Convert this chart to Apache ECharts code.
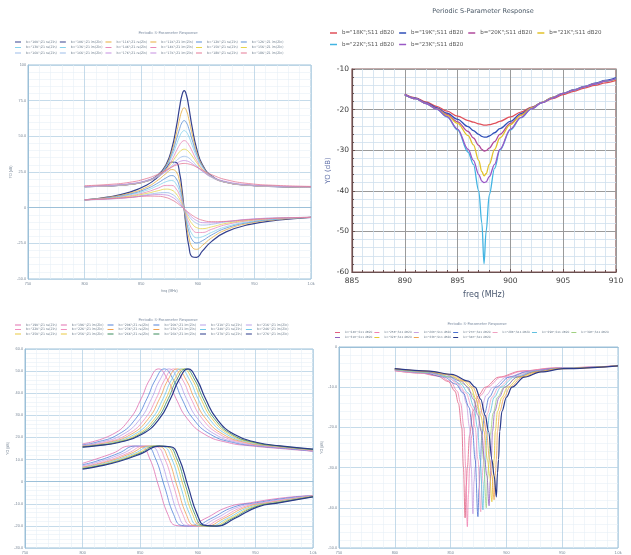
<!DOCTYPE html>
<html>
<head>
<meta charset="utf-8">
<title>Periodic S-Parameter Response</title>
<script src="https://cdn.jsdelivr.net/npm/echarts@6/dist/echarts.min.js"></script>
</head>
<body style="margin:0;background:#fff">
<div id="main" style="width:631px;height:555px;"></div>
<script type="text/javascript">

// ---- top left: re/im of Zin around resonance ----
var tlB = ['10K', '11K', '12K', '13K', '14K', '15K', '16K', '17K', '18K'];
var tlColors = ['#34408f', '#e8ac3c', '#5a8ed6', '#86d2ec', '#e888b8', '#e6d44c', '#9cbce8', '#c58ee0', '#e47894'];
var tlFreq = [800, 820, 840, 855, 865, 872, 877, 881, 884, 886, 888, 890, 892, 895, 899, 904, 912, 925, 945, 970, 1000];
var tlRe = [
    [14.7, 15.2, 16.3, 18.7, 23.0, 30.3, 41.3, 56.4, 70.8, 78.8, 82, 78.8, 70.8, 56.4, 41.3, 30.3, 22.4, 17.8, 15.7, 14.8, 14.4],
    [14.7, 15.2, 16.3, 18.7, 22.9, 29.7, 39.3, 51.6, 62.3, 67.9, 70, 67.9, 62.3, 51.6, 39.3, 29.7, 22.3, 17.8, 15.7, 14.8, 14.4],
    [14.7, 15.2, 16.4, 18.7, 22.7, 29.1, 37.5, 47.5, 55.5, 59.5, 61, 59.5, 55.5, 47.5, 37.5, 29.1, 22.2, 17.8, 15.7, 14.8, 14.5],
    [14.7, 15.2, 16.4, 18.7, 22.6, 28.4, 35.7, 43.8, 50, 52.9, 54, 52.9, 50, 43.8, 35.7, 28.4, 22, 17.8, 15.7, 14.8, 14.5],
    [14.7, 15.2, 16.3, 18.4, 22.0, 27.1, 33.2, 39.6, 44.1, 46.2, 47, 46.2, 44.1, 39.6, 33.2, 27.1, 21.5, 17.6, 15.6, 14.8, 14.4],
    [14.8, 15.3, 16.4, 18.6, 22.1, 26.6, 31.6, 36.2, 39.2, 40.5, 41, 40.5, 39.2, 36.2, 31.6, 26.6, 21.6, 17.8, 15.8, 14.9, 14.5],
    [14.8, 15.3, 16.5, 18.6, 21.8, 25.7, 29.5, 32.8, 34.9, 35.7, 36, 35.7, 34.9, 32.8, 29.5, 25.7, 21.3, 17.8, 15.8, 14.9, 14.5],
    [14.9, 15.5, 16.8, 19.1, 22.2, 25.6, 28.6, 30.9, 32.3, 32.8, 33, 32.8, 32.3, 30.9, 28.6, 25.6, 21.8, 18.3, 16.1, 15.1, 14.6],
    [15.4, 16.2, 17.8, 20.5, 23.5, 26.3, 28.4, 29.9, 30.6, 30.9, 31, 30.9, 30.6, 29.9, 28.4, 26.3, 23.2, 19.6, 16.9, 15.6, 14.9]
];
var tlIm = [
    [5.5, 7.4, 10.9, 15.9, 21.7, 27.7, 32.0, 31.6, 23.8, 13.0, -1.4, -15.8, -26.6, -34.4, -34.8, -30.5, -23.8, -17.0, -11.9, -8.8, -6.8],
    [5.5, 7.2, 10.2, 14.4, 19.4, 24.0, 26.7, 25.1, 18.1, 9.6, -1.2, -12.1, -20.6, -27.6, -29.2, -26.5, -21.3, -15.5, -11.0, -8.4, -6.8],
    [5.5, 6.9, 9.5, 13.3, 17.4, 20.9, 22.5, 20.2, 14.0, 7.2, -1.1, -9.5, -16.3, -22.5, -24.7, -23.2, -19.2, -14.3, -10.4, -8.1, -6.8],
    [5.5, 6.6, 9.0, 12.2, 15.6, 18.2, 19.0, 16.4, 11.0, 5.4, -1.1, -7.6, -13.1, -18.6, -21.1, -20.4, -17.4, -13.3, -9.9, -7.9, -6.8],
    [5.5, 6.4, 8.3, 11.0, 13.7, 15.6, 15.6, 13.0, 8.5, 4.1, -0.9, -6.0, -10.3, -14.9, -17.4, -17.4, -15.2, -11.9, -9.2, -7.5, -6.8],
    [5.5, 6.3, 7.9, 10.0, 11.9, 13.0, 12.3, 9.6, 5.9, 2.7, -0.9, -4.4, -7.6, -11.3, -14.0, -14.7, -13.5, -11.0, -8.8, -7.4, -6.8],
    [5.5, 6.1, 7.3, 9.1, 10.3, 10.6, 9.5, 7.1, 4.2, 1.9, -0.8, -3.4, -5.8, -8.6, -11.0, -12.2, -11.7, -10.0, -8.3, -7.2, -6.8],
    [5.5, 6.0, 7.1, 8.5, 9.2, 8.9, 7.5, 5.3, 2.9, 1.2, -0.8, -2.7, -4.5, -6.8, -9.0, -10.5, -10.6, -9.7, -8.1, -7.2, -6.8],
    [5.5, 6.2, 7.2, 8.1, 8.0, 7.1, 5.5, 3.6, 1.8, 0.5, -0.9, -2.2, -3.5, -5.3, -7.2, -8.8, -9.8, -9.6, -8.4, -7.4, -6.8]
];

// ---- top right: S11 dB20 ----
var trB = ['18K', '19K', '20K', '21K', '22K', '23K'];
var trColors = ['#e0505a', '#2f4fb8', '#b04a9c', '#e2c22a', '#42b4e2', '#9a58c6'];
var trFreq = [890, 891, 892, 893, 894, 895, 896, 896.5, 897, 897.3, 897.5, 897.7, 898, 898.5, 899, 900, 901, 902, 903, 904, 905, 906, 907, 908, 909, 910];
var trS11 = [
    [-16.2, -17.1, -18.1, -19.2, -20.4, -21.6, -22.7, -23.1, -23.5, -23.7, -23.8, -23.8, -23.7, -23.4, -22.9, -21.8, -20.6, -19.4, -18.3, -17.3, -16.3, -15.5, -14.7, -14.0, -13.4, -12.8],
    [-16.3, -17.2, -18.3, -19.5, -20.9, -22.4, -24.2, -25.2, -26.1, -26.6, -26.8, -26.8, -26.5, -25.7, -24.7, -22.9, -21.0, -19.5, -18.2, -17.0, -16.0, -15.1, -14.3, -13.5, -12.8, -12.1],
    [-16.3, -17.3, -18.4, -19.7, -21.2, -23.0, -25.4, -27.0, -28.8, -29.8, -30.2, -30.1, -29.5, -27.9, -26.1, -23.4, -21.3, -19.6, -18.2, -17.0, -16.0, -15.2, -14.4, -13.7, -13.0, -12.4],
    [-16.3, -17.3, -18.5, -19.8, -21.4, -23.4, -26.4, -28.7, -32.5, -35.3, -36.3, -35.8, -33.5, -29.8, -27.0, -23.7, -21.4, -19.6, -18.2, -17.0, -16.0, -15.2, -14.4, -13.7, -13.0, -12.5],
    [-16.3, -17.3, -18.5, -19.9, -21.8, -25.0, -30.5, -33.5, -40, -48, -58, -50, -41, -34.5, -30, -25.0, -22.0, -19.8, -18.3, -17.1, -16.0, -15.2, -14.4, -13.7, -13.0, -12.4],
    [-16.3, -17.3, -18.5, -19.9, -21.7, -24.8, -29.8, -32.5, -36, -37.6, -38, -37.8, -36.5, -33.5, -29.8, -24.8, -21.9, -19.8, -18.3, -17.1, -16.0, -15.2, -14.4, -13.7, -13.0, -12.4]
];

// ---- bottom left: shifted resonances ----
var blB = ['19K', '20K', '21K', '22K', '23K', '24K', '25K', '26K', '27K'];
var blColors = ['#e070b0', '#5080d8', '#b8a0e8', '#f090c0', '#f0a050', '#70c8e8', '#e8c840', '#3a8a5a', '#2a3a8a'];
var blRe = [
    [[800, 17.1], [826, 21.4], [841, 28.4], [851, 37.7], [858, 45.9], [866, 51], [874, 45.9], [881, 37.7], [891, 28.4], [906, 21.4], [926, 17.7], [946, 16.2], [976, 14.8], [1000, 13.8]],
    [[800, 16.7], [811, 17.7], [831, 21.4], [846, 28.4], [856, 37.7], [863, 45.9], [871, 51], [879, 45.9], [886, 37.7], [896, 28.4], [911, 21.4], [931, 17.7], [951, 16.2], [981, 14.8], [1000, 13.8]],
    [[800, 16.5], [815, 17.7], [835, 21.4], [850, 28.4], [860, 37.7], [867, 45.9], [875, 51], [883, 45.9], [890, 37.7], [900, 28.4], [915, 21.4], [935, 17.7], [955, 16.2], [985, 14.8], [1000, 13.8]],
    [[800, 16.2], [819, 17.7], [839, 21.4], [854, 28.4], [864, 37.7], [871, 45.9], [879, 51], [887, 45.9], [894, 37.7], [904, 28.4], [919, 21.4], [939, 17.7], [959, 16.2], [989, 14.8], [1000, 13.8]],
    [[800, 16.1], [822, 17.7], [842, 21.4], [857, 28.4], [867, 37.7], [874, 45.9], [882, 51], [890, 45.9], [897, 37.7], [907, 28.4], [922, 21.4], [942, 17.7], [962, 16.2], [1000, 14.3]],
    [[800, 15.9], [805, 16.2], [825, 17.7], [845, 21.4], [860, 28.4], [870, 37.7], [877, 45.9], [885, 51], [893, 45.9], [900, 37.7], [910, 28.4], [925, 21.4], [945, 17.7], [965, 16.2], [1000, 14.4]],
    [[800, 15.8], [807.5, 16.2], [827.5, 17.7], [847.5, 21.4], [862.5, 28.4], [872.5, 37.7], [879.5, 45.9], [887.5, 51], [895.5, 45.9], [902.5, 37.7], [912.5, 28.4], [927.5, 21.4], [947.5, 17.7], [967.5, 16.2], [1000, 14.5]],
    [[800, 15.7], [809.5, 16.2], [829.5, 17.7], [849.5, 21.4], [864.5, 28.4], [874.5, 37.7], [881.5, 45.9], [889.5, 51], [897.5, 45.9], [904.5, 37.7], [914.5, 28.4], [929.5, 21.4], [949.5, 17.7], [969.5, 16.2], [1000, 14.6]],
    [[800, 15.6], [811.5, 16.2], [831.5, 17.7], [851.5, 21.4], [866.5, 28.4], [876.5, 37.7], [883.5, 45.9], [891.5, 51], [899.5, 45.9], [906.5, 37.7], [916.5, 28.4], [931.5, 21.4], [951.5, 17.7], [971.5, 16.2], [1000, 14.7]]
];
var blIm = [
    [[800, 8.3], [826, 12.8], [841, 16.1], [851, 15.8], [858, 10.8], [866, -2], [874, -14.8], [881, -19.8], [891, -20.1], [906, -16.8], [926, -11.5], [946, -9.5], [976, -7.2], [1000, -6.3]],
    [[800, 7.7], [811, 9.1], [831, 12.8], [846, 16.1], [856, 15.8], [863, 10.8], [871, -2], [879, -14.8], [886, -19.8], [896, -20.1], [911, -16.8], [931, -11.5], [951, -9.5], [981, -7.2], [1000, -6.3]],
    [[800, 7.2], [815, 9.1], [835, 12.8], [850, 16.1], [860, 15.8], [867, 10.8], [875, -2], [883, -14.8], [890, -19.8], [900, -20.1], [915, -16.8], [935, -11.5], [955, -9.5], [985, -7.2], [1000, -6.3]],
    [[800, 6.7], [819, 9.1], [839, 12.8], [854, 16.1], [864, 15.8], [871, 10.8], [879, -2], [887, -14.8], [894, -19.8], [904, -20.1], [919, -16.8], [939, -11.5], [959, -9.5], [989, -7.2], [1000, -6.3]],
    [[800, 6.5], [822, 9.1], [842, 12.8], [857, 16.1], [867, 15.8], [874, 10.8], [882, -2], [890, -14.8], [897, -19.8], [907, -20.1], [922, -16.8], [942, -11.5], [962, -9.5], [1000, -6.5]],
    [[800, 6.2], [805, 6.7], [825, 9.1], [845, 12.8], [860, 16.1], [870, 15.8], [877, 10.8], [885, -2], [893, -14.8], [900, -19.8], [910, -20.1], [925, -16.8], [945, -11.5], [965, -9.5], [1000, -6.6]],
    [[800, 6.1], [807.5, 6.7], [827.5, 9.1], [847.5, 12.8], [862.5, 16.1], [872.5, 15.8], [879.5, 10.8], [887.5, -2], [895.5, -14.8], [902.5, -19.8], [912.5, -20.1], [927.5, -16.8], [947.5, -11.5], [967.5, -9.5], [1000, -6.7]],
    [[800, 5.9], [809.5, 6.7], [829.5, 9.1], [849.5, 12.8], [864.5, 16.1], [874.5, 15.8], [881.5, 10.8], [889.5, -2], [897.5, -14.8], [904.5, -19.8], [914.5, -20.1], [929.5, -16.8], [949.5, -11.5], [969.5, -9.5], [1000, -6.8]],
    [[800, 5.7], [811.5, 6.7], [831.5, 9.1], [851.5, 12.8], [866.5, 16.1], [876.5, 15.8], [883.5, 10.8], [891.5, -2], [899.5, -14.8], [906.5, -19.8], [916.5, -20.1], [931.5, -16.8], [951.5, -11.5], [971.5, -9.5], [1000, -6.9]]
];

// ---- bottom right: S11 dB20 notches ----
var brB = ['24K', '25K', '26K', '27K', '28K', '29K', '30K', '31K', '32K', '33K', '34K'];
var brColors = ['#e06080', '#f080b0', '#c8a0e0', '#4a70d0', '#f0a0c0', '#60c0e0', '#a0d080', '#9060c0', '#e8c830', '#f0a050', '#2a3a8a'];
var brS11 = [
    [[800, -5.9], [823, -6.5], [838, -7.2], [848, -8.6], [854, -11], [857, -14], [860, -20], [861.5, -30], [863, -42.5], [864, -34.5], [865, -30], [867, -22], [870, -16], [875, -12], [881, -10], [893, -7.5], [913, -6.0], [943, -5.2], [1000, -4.7]],
    [[800, -5.9], [825, -6.5], [840, -7.2], [850, -8.6], [856, -11], [859, -14], [862, -20], [863.5, -30], [865, -44.7], [866, -36.7], [867, -30], [869, -22], [872, -16], [877, -12], [883, -10], [895, -7.5], [915, -6.0], [945, -5.2], [1000, -4.7]],
    [[800, -5.8], [830, -6.5], [845, -7.2], [855, -8.6], [861, -11], [864, -14], [867, -20], [868.5, -30], [870, -41.5], [871, -33.5], [872, -30], [874, -22], [877, -16], [882, -12], [888, -10], [900, -7.5], [920, -6.0], [950, -5.2], [1000, -4.7]],
    [[800, -5.6], [824.5, -6.3], [844.5, -7.5], [854.5, -9.2], [861.5, -11.5], [866.5, -15], [869.5, -20], [872, -28], [874.5, -42.2], [875.5, -35.2], [876.5, -30], [878, -22], [880.5, -16.5], [884.5, -12.5], [890.5, -10], [902.5, -7.5], [919.5, -6.1], [944.5, -5.3], [1000, -4.7]],
    [[800, -5.6], [827, -6.3], [847, -7.5], [857, -9.2], [864, -11.5], [869, -15], [872, -20], [874.5, -28], [877, -41], [878, -34], [879, -30], [880.5, -22], [883, -16.5], [887, -12.5], [893, -10], [905, -7.5], [922, -6.1], [947, -5.3], [1000, -4.7]],
    [[800, -5.6], [829, -6.3], [849, -7.5], [859, -9.2], [866, -11.5], [871, -15], [874, -20], [876.5, -28], [879, -40.5], [880, -33.5], [881, -30], [882.5, -22], [885, -16.5], [889, -12.5], [895, -10], [907, -7.5], [924, -6.1], [949, -5.3], [1000, -4.7]],
    [[800, -5.6], [832, -6.3], [852, -7.5], [862, -9.2], [869, -11.5], [874, -15], [877, -20], [879.5, -28], [882, -40], [883, -33], [884, -30], [885.5, -22], [888, -16.5], [892, -12.5], [898, -10], [910, -7.5], [927, -6.1], [952, -5.3], [1000, -4.7]],
    [[800, -5.4], [824.5, -6.0], [844.5, -6.8], [859.5, -8.5], [865.5, -10], [870.5, -13], [874.5, -17], [877.5, -21], [880.5, -28], [882.5, -32], [884.5, -39.5], [885.5, -33.5], [886.5, -28], [887.5, -21], [889.5, -16], [893.5, -12.5], [898.5, -10], [909.5, -7.5], [924.5, -6.2], [944.5, -5.4], [1000, -4.7]],
    [[800, -5.4], [827, -6.0], [847, -6.8], [862, -8.5], [868, -10], [873, -13], [877, -17], [880, -21], [883, -28], [885, -32], [887, -38.5], [888, -32.5], [889, -28], [890, -21], [892, -16], [896, -12.5], [901, -10], [912, -7.5], [927, -6.2], [947, -5.4], [1000, -4.7]],
    [[800, -5.4], [829, -6.0], [849, -6.8], [864, -8.5], [870, -10], [875, -13], [879, -17], [882, -21], [885, -28], [887, -32], [889, -38], [890, -32], [891, -28], [892, -21], [894, -16], [898, -12.5], [903, -10], [914, -7.5], [929, -6.2], [949, -5.4], [1000, -4.7]],
    [[800, -5.4], [831, -6.0], [851, -6.8], [866, -8.5], [872, -10], [877, -13], [881, -17], [884, -21], [887, -28], [889, -32], [891, -37.3], [892, -31.3], [893, -28], [894, -21], [896, -16], [900, -12.5], [905, -10], [916, -7.5], [931, -6.2], [951, -5.4], [1000, -4.7]]
];

var myChart = echarts.init(document.getElementById('main'));

function line(name, data, gi, color, width, smooth, mono) {
    return {
        name: name, type: 'line', xAxisIndex: gi, yAxisIndex: gi, data: data,
        symbol: 'none', smooth: smooth, smoothMonotone: mono ? 'x' : null,
        lineStyle: {color: color, width: width}, itemStyle: {color: color},
        emphasis: {disabled: true}
    };
}
function pairs(xs, ys) {
    return xs.map(function (x, i) { return [x, ys[i]]; });
}
function smallFmt(v) {
    if (v === 0) return '0';
    if (Math.abs(v) >= 100) return String(v);
    return v.toFixed(1);
}
function freqFmt(v) {
    return v === 1000 ? '1.0k' : String(v);
}

// shared look of the three small plots
function smallX(gi, name) {
    return {
        type: 'value', gridIndex: gi, min: 750, max: 1000, interval: 50,
        name: name, nameLocation: 'middle', nameGap: 10,
        nameTextStyle: {fontSize: 3.5, color: '#7a8898'},
        axisLine: {lineStyle: {color: '#9cc0d8'}},
        axisTick: {show: false},
        axisLabel: {fontSize: 3.8, color: '#7a8898', margin: 3, formatter: freqFmt},
        splitLine: {lineStyle: {color: '#b6d2e4', width: 0.8}},
        minorTick: {show: true, splitNumber: 5, length: 0},
        minorSplitLine: {show: true, lineStyle: {color: '#e8f0f6', width: 0.6}}
    };
}
function smallY(gi, min, max, step, gap) {
    return {
        type: 'value', gridIndex: gi, min: min, max: max, interval: step,
        name: 'YO (dB)', nameLocation: 'middle', nameGap: gap,
        nameTextStyle: {fontSize: 3.5, color: '#7a8898'},
        axisLine: {show: true, lineStyle: {color: '#9cc0d8'}},
        axisTick: {show: false},
        axisLabel: {fontSize: 3.8, color: '#7a8898', margin: 2, formatter: smallFmt},
        splitLine: {lineStyle: {color: '#b6d2e4', width: 0.8}},
        minorTick: {show: true, splitNumber: 5, length: 0},
        minorSplitLine: {show: true, lineStyle: {color: '#e8f0f6', width: 0.6}}
    };
}
function legendRow(names, left, top, size, gap, w, h, color) {
    return {
        data: names, left: left, top: top, orient: 'horizontal',
        icon: 'rect', itemWidth: w, itemHeight: h, itemGap: gap, padding: 0,
        textStyle: {fontSize: size, color: color, fontFamily: 'DejaVu Sans'}
    };
}
function title(left, top, size, color) {
    return {
        text: 'Periodic S-Parameter Response', left: left, top: top, textAlign: 'center', padding: 0,
        textStyle: {fontSize: size, fontWeight: 'normal', color: color, fontFamily: 'DejaVu Sans'}
    };
}

var series = [];
var tlNames = [];
tlB.forEach(function (b, i) {
    var nr = 'b="' + b + '";Z1 re(Zin)';
    var ni = 'b="' + b + '";Z1 im(Zin)';
    tlNames.push(nr, ni);
    series.push(line(nr, pairs(tlFreq, tlRe[i]), 0, tlColors[i], i === 0 ? 1.2 : 0.8, 0.5, false));
    series.push(line(ni, pairs(tlFreq, tlIm[i]), 0, tlColors[i], i === 0 ? 1.2 : 0.8, 0.5, false));
});
var trNames = [];
trB.forEach(function (b, i) {
    var n = 'b="' + b + '";S11 dB20';
    trNames.push(n);
    series.push(line(n, pairs(trFreq, trS11[i]), 1, trColors[i], 1.3, 0.35, true));
});
var blNames = [];
blB.forEach(function (b, i) {
    var nr = 'b="' + b + '";Z1 re(Zin) ';
    var ni = 'b="' + b + '";Z1 im(Zin) ';
    blNames.push(nr, ni);
    series.push(line(nr, blRe[i], 2, blColors[i], i === 8 ? 1.2 : 0.8, 0.5, false));
    series.push(line(ni, blIm[i], 2, blColors[i], i === 8 ? 1.2 : 0.8, 0.5, false));
});
var brNames = [];
brB.forEach(function (b, i) {
    var n = 'b="' + b + '";S11 dB20';
    brNames.push(n);
    series.push(line(n, brS11[i], 3, brColors[i], i === 10 ? 1.2 : 0.8, 0.35, true));
});

var option = {
    backgroundColor: '#ffffff',
    animation: false,
    title: [
        title(168, 31.5, 3.8, '#7a8aa0'),
        title(483, 8, 6.5, '#4a5866'),
        title(168, 318, 3.8, '#7a8aa0'),
        title(477, 322, 3.8, '#7a8aa0')
    ],
    legend: [
        legendRow(tlNames.slice(0, 6), 15, 40.5, 3.2, 3, 6, 1, '#6a7a8a'),
        legendRow(tlNames.slice(6, 12), 15, 46, 3.2, 3, 6, 1, '#6a7a8a'),
        legendRow(tlNames.slice(12, 18), 15, 51.5, 3.2, 3, 6, 1, '#6a7a8a'),
        legendRow(trNames.slice(0, 4), 330, 30, 5.5, 5, 7, 1.5, '#555555'),
        legendRow(trNames.slice(4, 6), 330, 41.5, 5.5, 5, 7, 1.5, '#555555'),
        legendRow(blNames.slice(0, 6), 15, 323.5, 3.2, 3, 6, 1, '#6a7a8a'),
        legendRow(blNames.slice(6, 12), 15, 328, 3.2, 3, 6, 1, '#6a7a8a'),
        legendRow(blNames.slice(12, 18), 15, 332.5, 3.2, 3, 6, 1, '#6a7a8a'),
        legendRow(brNames.slice(0, 7), 335, 331, 2.9, 2, 5, 1, '#6a7a8a'),
        legendRow(brNames.slice(7, 11), 335, 336, 2.9, 2, 5, 1, '#6a7a8a')
    ],
    grid: [
        {left: 28, top: 65, width: 283, height: 214, show: true, borderColor: '#9cc0d8', borderWidth: 1},
        {left: 352, top: 69, width: 264, height: 203, show: true, borderColor: '#8a5a5a', borderWidth: 1.2},
        {left: 25, top: 349, width: 288, height: 201, show: true, borderColor: '#9cc0d8', borderWidth: 1},
        {left: 339, top: 347, width: 279, height: 202, show: true, borderColor: '#9cc0d8', borderWidth: 1}
    ],
    xAxis: [
        smallX(0, 'freq (MHz)'),
        {
            type: 'value', gridIndex: 1, min: 885, max: 910, interval: 5,
            name: 'freq (MHz)', nameLocation: 'middle', nameGap: 19,
            nameTextStyle: {fontSize: 8, color: '#4a5870', fontFamily: 'DejaVu Sans'},
            axisLine: {lineStyle: {color: '#6a5050', width: 1.2}},
            axisTick: {show: true, inside: true, length: 3, lineStyle: {color: '#6a5050'}},
            axisLabel: {fontSize: 7.5, color: '#3a3a3a', margin: 5, fontFamily: 'DejaVu Sans'},
            splitLine: {lineStyle: {color: '#9a9a9a', width: 1}},
            minorTick: {show: true, splitNumber: 5, length: 2, lineStyle: {color: '#6a5050'}},
            minorSplitLine: {show: true, lineStyle: {color: '#cfe0ee', width: 0.8}}
        },
        smallX(2, ''),
        smallX(3, '')
    ],
    yAxis: [
        smallY(0, -50, 100, 25, 14),
        {
            type: 'value', gridIndex: 1, min: -60, max: -10, interval: 10,
            name: 'YO (dB)', nameLocation: 'middle', nameGap: 20,
            nameTextStyle: {fontSize: 7, color: '#6070a8', fontFamily: 'DejaVu Sans'},
            axisLine: {show: true, lineStyle: {color: '#6a5050', width: 1.2}},
            axisTick: {show: true, inside: true, length: 3, lineStyle: {color: '#6a5050'}},
            axisLabel: {fontSize: 7.5, color: '#3a3a3a', margin: 3, fontFamily: 'DejaVu Sans'},
            splitLine: {lineStyle: {color: '#9a9a9a', width: 1}},
            minorTick: {show: true, splitNumber: 5, length: 2, lineStyle: {color: '#6a5050'}},
            minorSplitLine: {show: true, lineStyle: {color: '#cfe0ee', width: 0.8}}
        },
        smallY(2, -30, 60, 10, 12),
        smallY(3, -50, 0, 10, 12)
    ],
    series: series
};

myChart.setOption(option);

</script>
</body>
</html>
